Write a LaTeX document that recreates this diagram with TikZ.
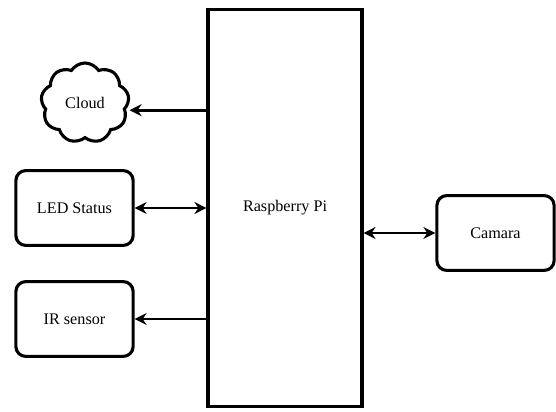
\documentclass[tikz,border=0pt]{standalone}
\usepackage{fontspec}
\setmainfont{Liberation Serif}
\newfontfamily\lblfont{Liberation Serif}
\usepackage{tikz}
\usetikzlibrary{shapes.symbols,arrows.meta}

\tikzset{
    lbl/.style={font=\lblfont\fontsize{11.5}{13}\selectfont},
    blk/.style={lbl, draw=black, line width=2.2pt, rounded corners=7pt, fill=white,
        minimum width=2.93cm, minimum height=1.87cm},
    arr/.style={line width=1.9pt, -{Stealth[length=0.3cm,width=0.3cm,inset=0.1cm]}},
    biarr/.style={line width=1.9pt, {Stealth[length=0.3cm,width=0.3cm,inset=0.1cm]}-{Stealth[length=0.3cm,width=0.3cm,inset=0.1cm]}}
}

\begin{document}
\begin{tikzpicture}[x=0.025cm, y=-0.025cm]
        % Picture frame (reference size in px)
        \useasboundingbox (0,0) rectangle (556,412);

        % Main board
        \node[lbl, draw=black, line width=2.2pt, minimum width=3.85cm, minimum height=9.9cm]
            (pi) at (285,208) {Raspberry Pi};

        % Left side blocks
        \node[lbl, cloud, cloud puffs=9, cloud puff arc=115, aspect=1.05, draw=black, line width=2.2pt,
            minimum width=2.2cm, minimum height=2cm, inner sep=0pt] (cloud) at (85,103) {Cloud};
        \node[blk] (led) at (74.5,208) {LED Status};
        \node[blk] (ir) at (74.5,319) {IR sensor};

        % Right side block
        \node[blk] (cam) at (495.5,233) {Camara};

        % Connections
        \draw[arr] ([yshift=-0.18cm]cloud.east -| pi.west) -- ([yshift=-0.18cm]cloud.east);
        \draw[biarr] (led.east) -- (led.east -| pi.west);
        \draw[arr] (ir.east -| pi.west) -- (ir.east);
        \draw[biarr] (cam.west -| pi.east) -- (cam.west);
    \end{tikzpicture}
\end{document}
